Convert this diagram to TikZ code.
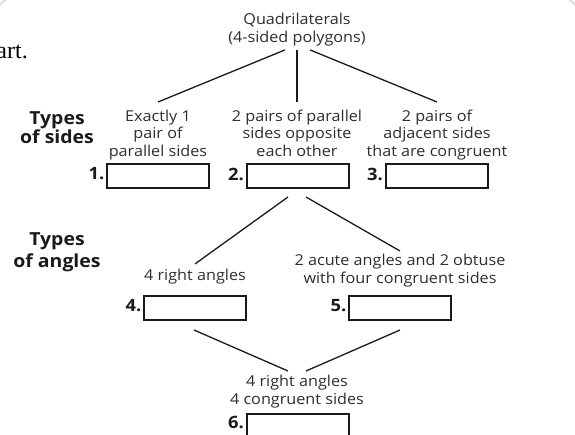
\documentclass[tikz,border=0pt]{standalone}
\usepackage{fontspec}
\setsansfont[FakeStretch=1.08]{Open Sans}
\newfontfamily\serifrt{Liberation Serif}
\usetikzlibrary{positioning}
\definecolor{ink}{HTML}{2E2E2E}
\definecolor{dark}{HTML}{1A1A1A}

\begin{document}
\begin{tikzpicture}
  [x=1pt, y=-1pt,
   every node/.style={inner sep=0pt, text=ink, font=\sffamily\fontsize{15}{17.5}\selectfont},
   txt/.style={align=center, anchor=north},
   head/.style={align=center, anchor=north, text=dark, font=\sffamily\bfseries\fontsize{18}{19}\selectfont},
   num/.style={text=dark, yshift=2pt, font=\sffamily\bfseries\fontsize{17}{17}\selectfont},
   blank/.style={draw=dark, line width=2pt, minimum width=102pt, minimum height=24pt},
   link/.style={draw=dark, line width=1.3pt}]
  \useasboundingbox (0,0) rectangle (575,434);
  \draw[gray!25, line width=2pt, rounded corners=25pt] (-5,-5) rectangle (580,600);

  \node[font=\serifrt\fontsize{24}{24}\selectfont, text=black, anchor=base east] (prev) at (28,58) {art.};

  \node[txt] (root) at (297,13) {Quadrilaterals\\(4-sided polygons)};

  % types of sides
  \node[head] (hsides) at (57,111) {Types\\of sides};
  \node[txt] (s1) at (158,109.5) {Exactly 1\\pair of\\parallel sides};
  \node[txt] (s2) at (297,109.5) {2 pairs of parallel\\sides opposite\\each other};
  \node[txt] (s3) at (437,109.5) {2 pairs of\\adjacent sides\\that are congruent};
  \node[blank] (b1) at (158,176) {};
  \node[blank] (b2) at (297.5,176) {};
  \node[blank] (b3) at (436.5,176) {};
  \node[num] (n1) [left=1.5pt of b1] {1.};
  \node[num] (n2) [left=1.5pt of b2] {2.};
  \node[num] (n3) [left=1.5pt of b3] {3.};

  % types of angles
  \node[head, font=\sffamily\bfseries\fontsize{18}{22}\selectfont] (hangles) at (57,232) {Types\\of angles};
  \node[anchor=base] (a1) at (195,280) {4 right angles};
  \node[txt] (a2) at (400,254) {2 acute angles and 2 obtuse\\with four congruent sides};
  \node[blank] (b4) at (195,308) {};
  \node[blank] (b5) at (400,308) {};
  \node[num] (n4) [left=1.5pt of b4] {4.};
  \node[num] (n5) [left=1.5pt of b5] {5.};

  \node[txt] (fin) at (297,375) {4 right angles\\4 congruent sides};
  \node[blank] (b6) at (297.5,426) {};
  \node[num, yshift=2pt] (n6) [left=1.5pt of b6] {6.};

  \draw[link] ([shift={(-12,4)}]root.south) -- ([shift={(0,-7.5)}]s1.north);
  \draw[link] ([shift={(0,4)}]root.south) -- ([shift={(0,-7.5)}]s2.north);
  \draw[link] ([shift={(13,4)}]root.south) -- ([shift={(0,-7.5)}]s3.north);
  \draw[link] ([shift={(-9.5,8)}]b2.south) -- ([shift={(0,-4.5)}]a1.north);
  \draw[link] ([shift={(8.5,8)}]b2.south) -- ([shift={(0,-3)}]a2.north);
  \draw[link] ([shift={(-1,9)}]b4.south) -- ([shift={(-9,-4)}]fin.north);
  \draw[link] ([shift={(0,9)}]b5.south) -- ([shift={(9,-4)}]fin.north);
\end{tikzpicture}
\end{document}
